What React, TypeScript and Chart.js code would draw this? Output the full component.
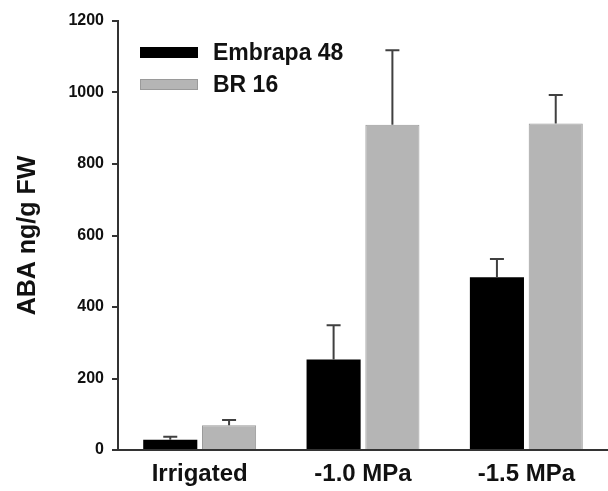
import React, { useEffect, useRef } from "react";
import { Chart, registerables } from "chart.js";

Chart.register(...registerables);

const categories = ["Irrigated", "-1.0 MPa", "-1.5 MPa"];
const seriesNames = ["Embrapa 48", "BR 16"];
const embrapaValues = [29, 253, 483];
const br16Values = [69, 910, 913];
const embrapaErrTop = [37, 349, 534];
const br16ErrTop = [84, 1118, 993];
const yTicks = [0, 200, 400, 600, 800, 1000, 1200];

const FONT = "'Liberation Sans', Arial, Helvetica, sans-serif";

const errorBarPlugin = {
  id: "errorBars",
  afterDatasetsDraw(chart: any) {
    const ctx = chart.ctx;
    const yScale = chart.scales.y;
    chart.data.datasets.forEach((ds: any, i: number) => {
      const meta = chart.getDatasetMeta(i);
      const errs: number[] = ds.errTop;
      meta.data.forEach((bar: any, j: number) => {
        const yTop = yScale.getPixelForValue(errs[j]);
        ctx.save();
        ctx.strokeStyle = "#404040";
        ctx.lineWidth = 2;
        ctx.beginPath();
        ctx.moveTo(bar.x, bar.y);
        ctx.lineTo(bar.x, yTop);
        ctx.moveTo(bar.x - 7, yTop);
        ctx.lineTo(bar.x + 7, yTop);
        ctx.stroke();
        ctx.restore();
      });
    });
  },
};

const legendPlugin = {
  id: "customLegend",
  afterDraw(chart: any) {
    const ctx = chart.ctx;
    const left = chart.chartArea.left;
    const top = chart.chartArea.top;
    const items = chart.data.datasets.map((ds: any) => ({
      label: ds.label,
      fill: ds.backgroundColor,
      stroke: ds.borderColor,
    }));
    ctx.save();
    items.forEach((it: any, k: number) => {
      const y = top + 26 + k * 32;
      ctx.fillStyle = it.fill;
      ctx.fillRect(left + 22, y, 58, 11);
      ctx.strokeStyle = it.stroke;
      ctx.lineWidth = 1;
      ctx.strokeRect(left + 22.5, y + 0.5, 57, 10);
      ctx.fillStyle = "#111";
      ctx.font = `bold 23px ${FONT}`;
      ctx.textBaseline = "alphabetic";
      ctx.textAlign = "left";
      ctx.fillText(it.label, left + 95, y + 13);
    });
    ctx.restore();
  },
};

export default function App() {
  const ref = useRef<HTMLCanvasElement | null>(null);
  useEffect(() => {
    if (!ref.current) return;
    const chart = new Chart(ref.current, {
      type: "bar",
      data: {
        labels: categories,
        datasets: [
          {
            label: seriesNames[0],
            data: embrapaValues,
            backgroundColor: "#000000",
            borderColor: "#000000",
            borderWidth: 0,
            errTop: embrapaErrTop,
          } as any,
          {
            label: seriesNames[1],
            data: br16Values,
            backgroundColor: "#b5b5b5",
            borderColor: "#9a9a9a",
            borderWidth: 1,
            errTop: br16ErrTop,
          } as any,
        ],
      },
      options: {
        animation: false,
        responsive: true,
        maintainAspectRatio: false,
        layout: { padding: { top: 21, right: 0, bottom: 0, left: 0 } },
        datasets: {
          bar: { categoryPercentage: 0.72, barPercentage: 0.92 },
        },
        plugins: {
          legend: { display: false },
          tooltip: { enabled: false },
        },
        scales: {
          x: {
            grid: { display: false, drawTicks: false },
            border: { display: true, color: "#333", width: 2 },
            ticks: {
              color: "#111",
              padding: 10,
              font: { family: FONT, size: 24, weight: "bold" },
            },
            afterFit(scale: any) {
              scale.height = 41;
            },
          },
          y: {
            min: 0,
            max: 1200,
            afterBuildTicks(scale: any) {
              scale.ticks = yTicks.map((v) => ({ value: v }));
            },
            grid: {
              drawOnChartArea: false,
              drawTicks: true,
              tickLength: 6,
              color: "#333",
              lineWidth: 2,
            },
            border: { display: true, color: "#333", width: 2 },
            ticks: {
              color: "#111",
              padding: 8,
              font: { family: FONT, size: 16, weight: "bold" },
              callback: (v: any) => String(v),
            },
            title: {
              display: true,
              text: "ABA ng/g FW",
              color: "#111",
              font: { family: FONT, size: 25, weight: "bold" },
              padding: { top: 13, bottom: 0 },
            },
            afterFit(scale: any) {
              scale.width = 118;
            },
          },
        },
      },
      plugins: [errorBarPlugin, legendPlugin],
    });
    return () => chart.destroy();
  }, []);
  return (
    <div
      style={{
        position: "fixed",
        left: 0,
        top: 0,
        width: 608,
        height: 491,
        background: "#fff",
      }}
    >
      <canvas ref={ref} />
    </div>
  );
}
